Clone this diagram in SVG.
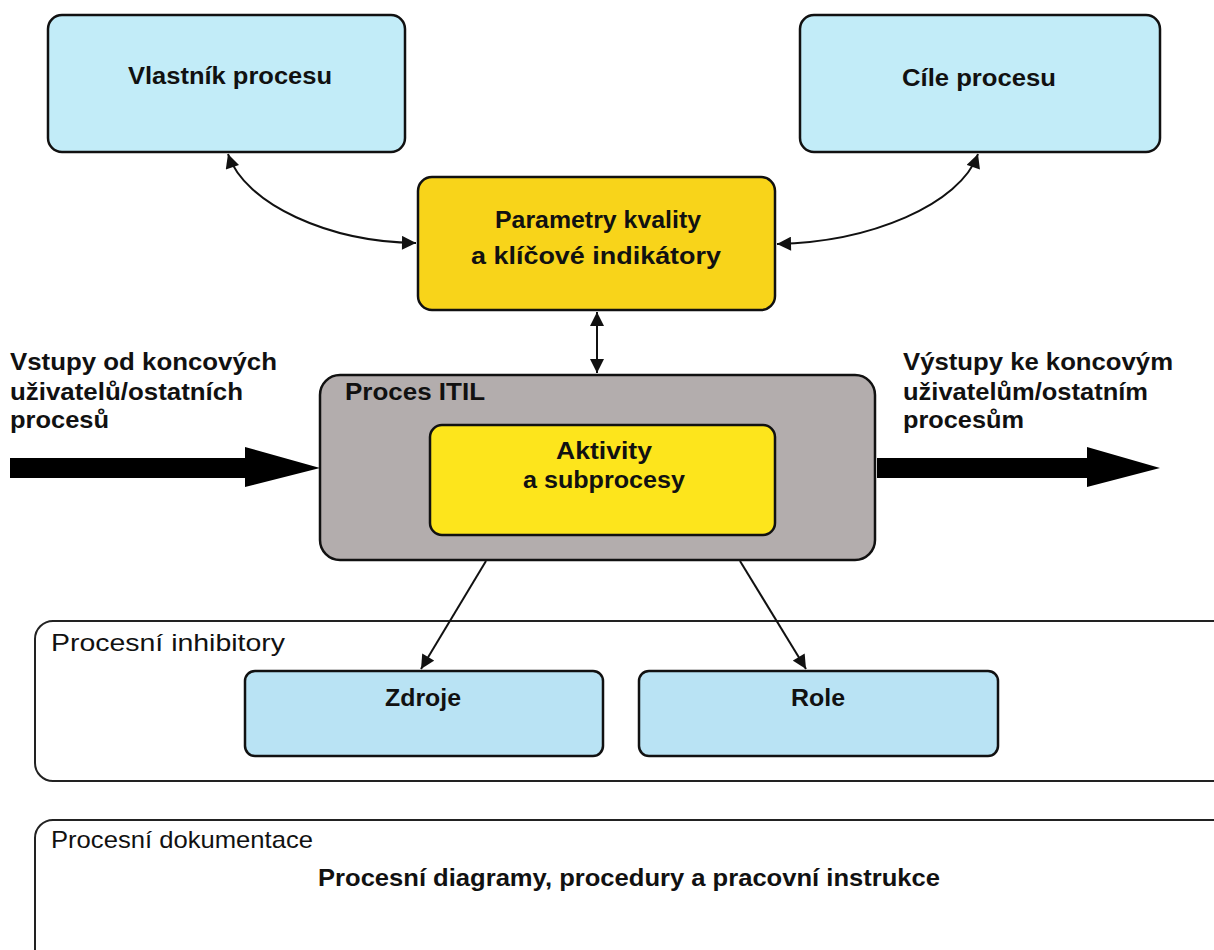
<svg xmlns="http://www.w3.org/2000/svg" width="1214" height="950" viewBox="0 0 1214 950">
<defs>
<style>
.box{stroke:#111;stroke-width:2.5}
.blue{fill:#c2ecf8}
.blue2{fill:#b9e3f4}
.yellow{fill:#f8d41a}
.yellow2{fill:#fde51c}
.gray{fill:#b3adad}
.frame{fill:#fff;stroke:#222;stroke-width:2}
.t{font-family:"Liberation Sans",Arial,sans-serif;font-weight:bold;fill:#111}
.n{font-family:"Liberation Sans",Arial,sans-serif;font-weight:normal;fill:#111}
.c{text-anchor:middle}
.conn{fill:none;stroke:#111;stroke-width:2}
</style>
<marker id="ah" viewBox="0 0 10 10" refX="10" refY="5" markerWidth="16" markerHeight="14" markerUnits="userSpaceOnUse" orient="auto-start-reverse">
<path d="M0,0 L10,5 L0,10 z" fill="#111"/>
</marker>
</defs>
<rect width="1214" height="950" fill="#fff"/>

<g id="inhibitory">
<rect class="frame" x="35" y="621" width="1195" height="160" rx="18"/>
<text class="n" x="51" y="651" font-size="24" textLength="234" lengthAdjust="spacingAndGlyphs">Procesní inhibitory</text>
</g>
<g id="dokumentace">
<rect class="frame" x="35" y="820" width="1195" height="150" rx="18"/>
<text class="n" x="51" y="848" font-size="24" textLength="262" lengthAdjust="spacingAndGlyphs">Procesní dokumentace</text>
<text class="t c" x="629" y="886" font-size="24" textLength="622" lengthAdjust="spacingAndGlyphs">Procesní diagramy, procedury a pracovní instrukce</text>
</g>

<g id="vlastnik">
<rect class="box blue" x="48" y="15" width="357" height="137" rx="14"/>
<text class="t c" x="230" y="84" font-size="23" textLength="204" lengthAdjust="spacingAndGlyphs">Vlastník procesu</text>
</g>
<g id="cile">
<rect class="box blue" x="800" y="15" width="360" height="137" rx="14"/>
<text class="t c" x="979" y="86" font-size="23" textLength="154" lengthAdjust="spacingAndGlyphs">Cíle procesu</text>
</g>
<g id="parametry">
<rect class="box yellow" x="418" y="177" width="357" height="133" rx="14"/>
<text class="t c" x="598" y="228" font-size="23" textLength="206" lengthAdjust="spacingAndGlyphs">Parametry kvality</text>
<text class="t c" x="596" y="264" font-size="23" textLength="250" lengthAdjust="spacingAndGlyphs">a klíčové indikátory</text>
</g>
<g id="proces-itil">
<rect class="box gray" x="320" y="375" width="555" height="185" rx="20"/>
<text class="t" x="345" y="400" font-size="23" textLength="140" lengthAdjust="spacingAndGlyphs">Proces ITIL</text>
</g>
<g id="aktivity">
<rect class="box yellow2" x="430" y="425" width="345" height="110" rx="12"/>
<text class="t c" x="604" y="459" font-size="23" textLength="96" lengthAdjust="spacingAndGlyphs">Aktivity</text>
<text class="t c" x="604" y="488" font-size="23" textLength="162" lengthAdjust="spacingAndGlyphs">a subprocesy</text>
</g>
<g id="zdroje">
<rect class="box blue2" x="245" y="671" width="358" height="85" rx="10"/>
<text class="t c" x="423" y="706" font-size="23" textLength="76" lengthAdjust="spacingAndGlyphs">Zdroje</text>
</g>
<g id="role">
<rect class="box blue2" x="639" y="671" width="359" height="85" rx="10"/>
<text class="t c" x="818" y="706" font-size="23" textLength="54" lengthAdjust="spacingAndGlyphs">Role</text>
</g>

<g id="vstupy">
<text class="t" x="10" y="370" font-size="24" textLength="267" lengthAdjust="spacingAndGlyphs">Vstupy od koncových</text>
<text class="t" x="10" y="400" font-size="24" textLength="233" lengthAdjust="spacingAndGlyphs">uživatelů/ostatních</text>
<text class="t" x="10" y="428" font-size="24" textLength="99" lengthAdjust="spacingAndGlyphs">procesů</text>
</g>
<g id="vystupy">
<text class="t" x="903" y="370" font-size="24" textLength="270" lengthAdjust="spacingAndGlyphs">Výstupy ke koncovým</text>
<text class="t" x="903" y="400" font-size="24" textLength="245" lengthAdjust="spacingAndGlyphs">uživatelům/ostatním</text>
<text class="t" x="903" y="428" font-size="24" textLength="121" lengthAdjust="spacingAndGlyphs">procesům</text>
</g>

<g id="connectors">
<path class="conn" d="M228,154 C245,205 330,242 416,243" marker-start="url(#ah)" marker-end="url(#ah)"/>
<path class="conn" d="M978,154 C960,205 870,242 777,244" marker-start="url(#ah)" marker-end="url(#ah)"/>
<path class="conn" d="M597,312 L597,373" marker-start="url(#ah)" marker-end="url(#ah)"/>
<path class="conn" d="M486,561 L421,669" marker-end="url(#ah)"/>
<path class="conn" d="M740,561 L806,669" marker-end="url(#ah)"/>
<polygon points="10,458 245,458 245,447 320,468 245,487 245,478 10,478" fill="#000"/>
<polygon points="877,458 1087,458 1087,447 1160,468 1087,487 1087,478 877,478" fill="#000"/>
</g>
</svg>
